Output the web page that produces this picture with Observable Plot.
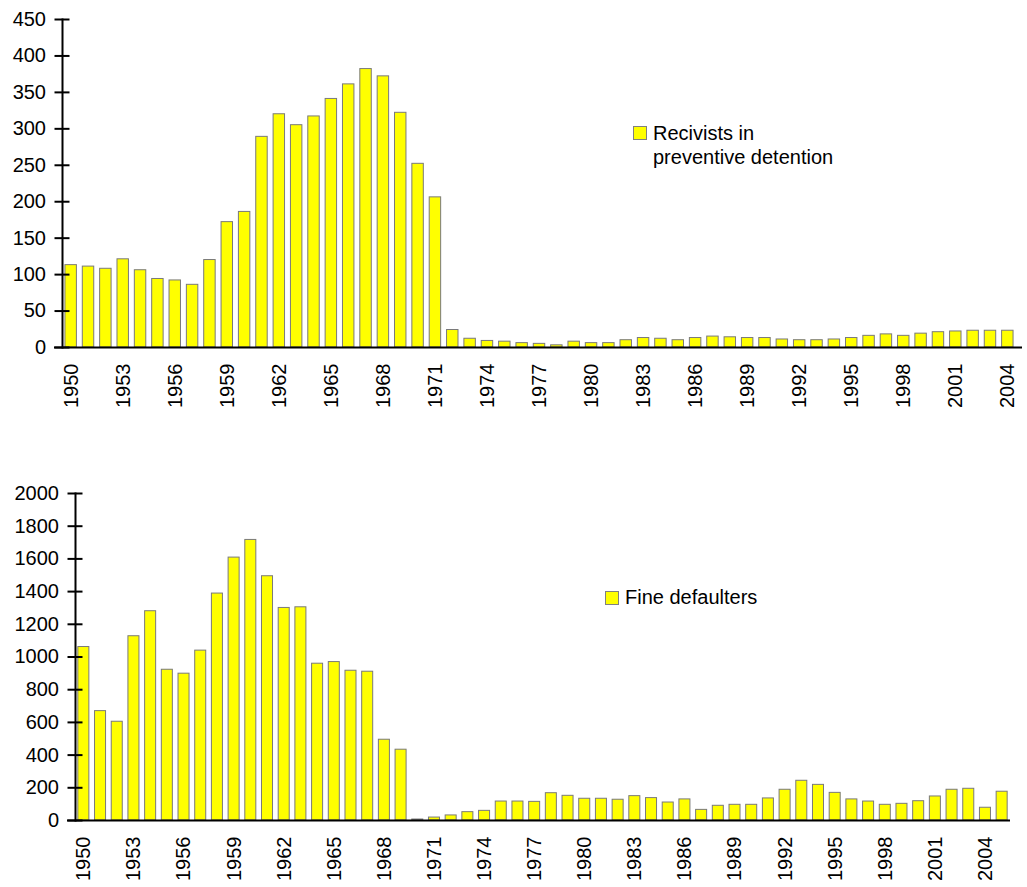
<!DOCTYPE html>
<html><head><meta charset="utf-8">
<script src="https://cdn.jsdelivr.net/npm/d3@7"></script>
<script src="https://cdn.jsdelivr.net/npm/@observablehq/plot@0.6"></script>
<style>
body{margin:0;background:#fff;font-family:"Liberation Sans",Arial,sans-serif;}
#wrap{position:relative;width:1027px;height:887px;overflow:hidden;background:#fff;}
.chart{position:absolute;left:0;}
.legend{position:absolute;font-size:20px;line-height:24px;color:#000;white-space:nowrap;}
.sw{position:absolute;width:12px;height:12px;background:#ffff00;border:1px solid #808080;}
</style></head><body>
<div id="wrap"></div>
<script>
// ---- Data ----
const yearsTop = [1950,1951,1952,1953,1954,1955,1956,1957,1958,1959,
  1960,1961,1962,1963,1964,1965,1966,1967,1968,1969,
  1970,1971,1972,1973,1974,1975,1976,1977,1978,1979,
  1980,1981,1982,1983,1984,1985,1986,1987,1988,1989,
  1990,1991,1992,1993,1994,1995,1996,1997,1998,1999,
  2000,2001,2002,2003,2004];
const recidivists = [113,111,108,121,106,94,92,86,120,172,
  186,289,320,305,317,341,361,382,372,322,
  252,206,24,12,9,8,6,5,3,8,
  6,6,10,13,12,10,13,15,14,13,
  13,11,10,10,11,13,16,18,16,19,
  21,22,23,23,23];
const yearsBottom = [1950,1951,1952,1953,1954,1955,1956,1957,1958,1959,
  1960,1961,1962,1963,1964,1965,1966,1967,1968,1969,
  1970,1971,1972,1973,1974,1975,1976,1977,1978,1979,
  1980,1981,1982,1983,1984,1985,1986,1987,1988,1989,
  1990,1991,1992,1993,1994,1995,1996,1997,1998,1999,
  2000,2001,2002,2003,2004,2005];
const fineDefaulters = [1061,669,604,1127,1280,922,898,1039,1388,1608,
  1716,1494,1300,1304,959,969,916,910,494,433,
  6,18,31,51,59,116,116,114,167,151,
  133,133,127,149,137,110,129,65,90,96,
  96,135,188,243,218,169,129,116,96,102,
  118,147,188,194,78,176];
const yTicksTop = [0,50,100,150,200,250,300,350,400,450];
const yTicksBottom = [0,200,400,600,800,1000,1200,1400,1600,1800,2000];
const xTickLabels = [1950,1953,1956,1959,1962,1965,1968,1971,1974,1977,1980,1983,1986,1989,1992,1995,1998,2001,2004];
const legendTop = ["Recivists in", "preventive detention"];
const legendBottom = ["Fine defaulters"];

const FONT = '"Liberation Sans", Arial, sans-serif';

function barChart({years, values, yTicks, yMax, height, marginTop, marginBottom, marginLeft, marginRight, axisExtendRight}) {
  const data = years.map((year, i) => ({year, value: values[i]}));
  return Plot.plot({
    width: 1027, height, marginTop, marginBottom, marginLeft, marginRight,
    style: {fontFamily: FONT, fontSize: "20px"},
    x: {type: "band", domain: years, paddingInner: 0.34, paddingOuter: 0.17, round: false, label: null},
    y: {domain: [0, yMax], label: null},
    marks: [
      Plot.barY(data, {x: "year", y: "value", fill: "#ffff00", stroke: "#7a7a7a", strokeWidth: 1}),
      Plot.ruleY([0], {stroke: "black", strokeWidth: 2, insetLeft: -8, insetRight: -axisExtendRight}),
      Plot.frame({anchor: "left", stroke: "black", strokeWidth: 2}),
      Plot.axisY(yTicks, {tickSize: 15, dx: 7.5, tickPadding: 9, strokeWidth: 2, tickFormat: d => String(d)}),
      Plot.axisX(xTickLabels, {tickSize: 0, tickPadding: 16, tickRotate: -90, tickFormat: d => String(d)})
    ]
  });
}

const wrap = document.getElementById("wrap");

const top1 = barChart({years: yearsTop, values: recidivists, yTicks: yTicksTop, yMax: 450,
  height: 420, marginTop: 19, marginBottom: 73, marginLeft: 62, marginRight: 11, axisExtendRight: 6});
top1.classList.add("chart"); top1.style.top = "0px";
wrap.appendChild(top1);

const bot = barChart({years: yearsBottom, values: fineDefaulters, yTicks: yTicksBottom, yMax: 2000,
  height: 447, marginTop: 53, marginBottom: 67, marginLeft: 75, marginRight: 17, axisExtendRight: 0});
bot.classList.add("chart"); bot.style.top = "440px";
wrap.appendChild(bot);

function legend(lines, swLeft, swTop, textLeft, textTop) {
  const sw = document.createElement("div");
  sw.className = "sw"; sw.style.left = swLeft + "px"; sw.style.top = swTop + "px";
  wrap.appendChild(sw);
  const t = document.createElement("div");
  t.className = "legend"; t.style.left = textLeft + "px"; t.style.top = textTop + "px";
  t.innerHTML = lines.join("<br>");
  wrap.appendChild(t);
}
legend(legendTop, 633, 126, 653, 120.5);
legend(legendBottom, 605, 591, 625, 584.5);
</script>
</body></html>
